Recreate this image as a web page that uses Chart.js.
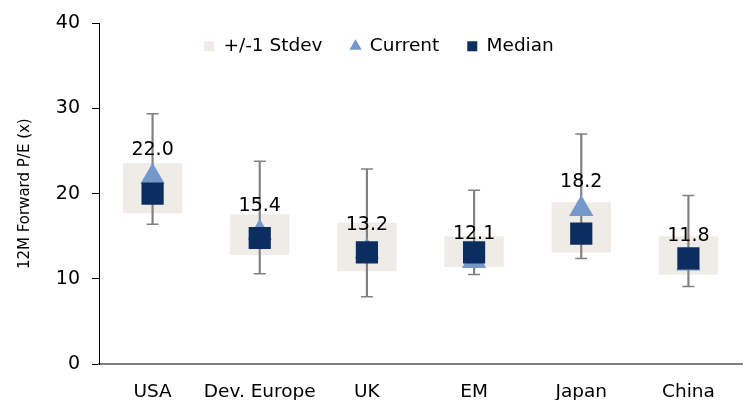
<!DOCTYPE html>
<html>
<head>
<meta charset="utf-8">
<script src="https://cdn.jsdelivr.net/npm/chart.js@4"></script>
<style>
    html, body { margin: 0; padding: 0; background: #fff; }
    #wrap { width: 746px; height: 400px; }
</style>
</head>
<body>
<div id="wrap"><canvas id="peChart"></canvas></div>
<script>
var regions = ["USA", "Dev. Europe", "UK", "EM", "Japan", "China"];
var stdevLow = [17.7, 12.8, 10.9, 11.4, 13.1, 10.5];
var stdevHigh = [23.6, 17.6, 16.6, 15.0, 19.0, 15.0];
var minPE = [16.4, 10.6, 7.9, 10.5, 12.4, 9.1];
var maxPE = [29.4, 23.8, 22.9, 20.4, 27.0, 19.8];
var medianPE = [20.0, 14.8, 13.1, 13.1, 15.3, 12.4];
var currentPE = [22.0, 15.4, 13.2, 12.1, 18.2, 11.8];
var yTicks = [0, 10, 20, 30, 40];

var stdevColor = "#EFEBE7";
var currentColor = "#7398C9";
var medianColor = "#0B2D60";
var whiskerColor = "#808080";
var fontName = "'DejaVu Sans', sans-serif";

// legend sits inside the plot, so it should not push the chart area down
var legendOverlay = {
    id: "legendOverlay",
    beforeLayout: function (chart) {
        var legend = chart.legend;
        if (!legend || legend._wrapped) return;
        var fit = legend.fit;
        legend.fit = function () {
            fit.call(this);
            this._realHeight = this.height;
            this.height = 0;
        };
        legend._wrapped = true;
    },
    afterLayout: function (chart) {
        var legend = chart.legend;
        legend.top = 9;
        legend.height = legend._realHeight;
        legend.bottom = legend.top + legend._realHeight;
        legend.left += 8;
        legend.right += 8;
    }
};

// value labels above the "Current" markers
var currentLabels = {
    id: "currentLabels",
    afterDatasetsDraw: function (chart) {
        var ctx = chart.ctx;
        var meta = chart.getDatasetMeta(1);
        ctx.save();
        ctx.font = "19px " + fontName;
        ctx.fillStyle = "#000";
        ctx.textAlign = "center";
        ctx.textBaseline = "middle";
        meta.data.forEach(function (pt, i) {
            ctx.fillText(currentPE[i].toFixed(1), pt.x, pt.y - 27);
        });
        ctx.restore();
    }
};

var stdevRange = regions.map(function (r, i) { return [stdevLow[i], stdevHigh[i]]; });
var fullRange = regions.map(function (r, i) { return [minPE[i], maxPE[i]]; });

new Chart("peChart", {
    type: "bar",
    data: {
        labels: regions,
        datasets: [{
            label: "+/-1 Stdev",
            data: stdevRange,
            backgroundColor: stdevColor,
            borderWidth: 0,
            grouped: false,
            categoryPercentage: 1,
            barPercentage: 0.553,
            pointStyle: "rect",
            order: 4
        }, {
            type: "line",
            label: "Current",
            data: currentPE,
            showLine: false,
            pointStyle: "triangle",
            pointRadius: 14,
            pointBorderWidth: 0,
            borderWidth: 0,
            backgroundColor: currentColor,
            borderColor: currentColor,
            order: 1
        }, {
            type: "line",
            label: "Median",
            data: medianPE,
            showLine: false,
            pointStyle: "rect",
            pointRadius: 15.7,
            pointBorderWidth: 0,
            borderWidth: 0,
            backgroundColor: medianColor,
            borderColor: medianColor,
            order: 0
        }, {
            label: "range",
            data: fullRange,
            backgroundColor: whiskerColor,
            borderWidth: 0,
            grouped: false,
            barThickness: 1.5,
            order: 3
        }, {
            type: "line",
            label: "max",
            data: maxPE,
            showLine: false,
            pointStyle: "line",
            pointRadius: 6,
            pointBorderWidth: 1.5,
            borderColor: whiskerColor,
            order: 2
        }, {
            type: "line",
            label: "min",
            data: minPE,
            showLine: false,
            pointStyle: "line",
            pointRadius: 6,
            pointBorderWidth: 1.5,
            borderColor: whiskerColor,
            order: 2
        }]
    },
    options: {
        responsive: true,
        maintainAspectRatio: false,
        animation: false,
        layout: {
            autoPadding: false,
            padding: { top: 21, right: 4, bottom: 0, left: 0 }
        },
        scales: {
            x: {
                grid: { display: false, drawTicks: false },
                border: { display: true, color: "#7f7f7f", width: 2 },
                ticks: {
                    color: "#000",
                    padding: 17,
                    autoSkip: false,
                    maxRotation: 0,
                    minRotation: 0,
                    font: { family: fontName, size: 18.5 }
                },
                afterFit: function (scale) { scale.height = 36; }
            },
            y: {
                min: 0,
                max: 40,
                afterBuildTicks: function (scale) {
                    scale.ticks = yTicks.map(function (v) { return { value: v }; });
                },
                grid: {
                    drawOnChartArea: false,
                    drawTicks: true,
                    tickLength: 7,
                    color: "#000",
                    tickColor: "#000"
                },
                border: { display: true, color: "#000", width: 1 },
                ticks: {
                    color: "#000",
                    padding: 12,
                    font: { family: fontName, size: 19 }
                },
                title: {
                    display: true,
                    text: "12M Forward P/E (x)",
                    color: "#000",
                    padding: { top: 16 },
                    font: { family: fontName, size: 15 }
                },
                afterFit: function (scale) { scale.width = 99; }
            }
        },
        plugins: {
            legend: {
                display: true,
                position: "top",
                labels: {
                    usePointStyle: true,
                    boxWidth: 10,
                    boxHeight: 10,
                    padding: 28,
                    color: "#000",
                    font: { family: fontName, size: 18.5 },
                    filter: function (item) { return item.datasetIndex < 3; },
                    sort: function (a, b) { return a.datasetIndex - b.datasetIndex; }
                }
            },
            tooltip: { enabled: false }
        }
    },
    plugins: [legendOverlay, currentLabels]
});
</script>
</body>
</html>
